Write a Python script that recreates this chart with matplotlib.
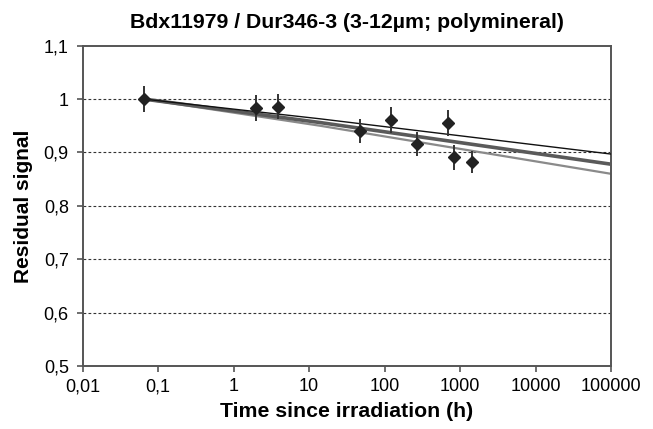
import matplotlib
matplotlib.use("Agg")
import matplotlib.pyplot as plt
from matplotlib.ticker import FixedLocator, FixedFormatter

plt.rcParams['font.family'] = ['Liberation Sans', 'DejaVu Sans']

# Measured data points
time_h = [0.065, 2.0, 3.9, 47, 120, 265, 683, 835, 1450]
signal = [1.000, 0.983, 0.986, 0.940, 0.961, 0.916, 0.955, 0.891, 0.882]
err = [0.025, 0.025, 0.024, 0.023, 0.024, 0.023, 0.024, 0.023, 0.021]

# Fading model curves
curve_t = [0.065, 14, 100000]
curve_upper = [1.000, 0.963, 0.897]
curve_mid = [1.000, 0.956, 0.878]
curve_low = [1.000, 0.950, 0.860]

xticks = [0.01, 0.1, 1, 10, 100, 1000, 10000, 100000]
xticklabels = ["0,01", "0,1", "1", "10", "100", "1000", "10000", "100000"]
yticks = [0.5, 0.6, 0.7, 0.8, 0.9, 1.0, 1.1]
yticklabels = ["0,5", "0,6", "0,7", "0,8", "0,9", "1", "1,1"]

fig = plt.figure(figsize=(6.53, 4.29), dpi=100)
ax = fig.add_axes([0.1266, 0.1469, 0.8091, 0.7466])

ax.set_xscale('log')
ax.set_xlim(0.01, 100000)
ax.set_ylim(0.5, 1.1)

for y in [0.6, 0.7, 0.8, 0.9, 1.0]:
    ax.axhline(y, color='#333333', lw=0.8, ls=(0, (2.5, 2)), zorder=1)

ax.plot(curve_t, curve_low, color='#8a8a8a', lw=1.6, zorder=2)
ax.plot(curve_t, curve_mid, color='#5a5a5a', lw=2.6, zorder=3)
ax.plot(curve_t, curve_upper, color='#111111', lw=1.0, zorder=4)

ax.errorbar(time_h, signal, yerr=err, fmt='D', color='#222222', ms=6.5,
            ecolor='#333333', elinewidth=1.4, capsize=0, zorder=5)

ax.xaxis.set_major_locator(FixedLocator(xticks))
ax.xaxis.set_major_formatter(FixedFormatter(xticklabels))
ax.xaxis.set_minor_locator(FixedLocator([]))
ax.yaxis.set_major_locator(FixedLocator(yticks))
ax.yaxis.set_major_formatter(FixedFormatter(yticklabels))

ax.tick_params(axis='both', direction='out', length=4, width=1.2,
               color='#555555', labelsize=13)
ax.tick_params(axis='x', pad=5)
ax.tick_params(axis='y', pad=6)
for s in ax.spines.values():
    s.set_color('#555555')
    s.set_linewidth(1.4)

ax.set_title("Bdx11979 / Dur346-3 (3-12µm; polymineral)", fontsize=15.3,
             fontweight='bold', pad=13)
ax.set_xlabel("Time since irradiation (h)", fontsize=15.3, fontweight='bold',
              labelpad=5)
ax.set_ylabel("Residual signal", fontsize=15, fontweight='bold', labelpad=8)

fig.savefig("out.png", dpi=100)
